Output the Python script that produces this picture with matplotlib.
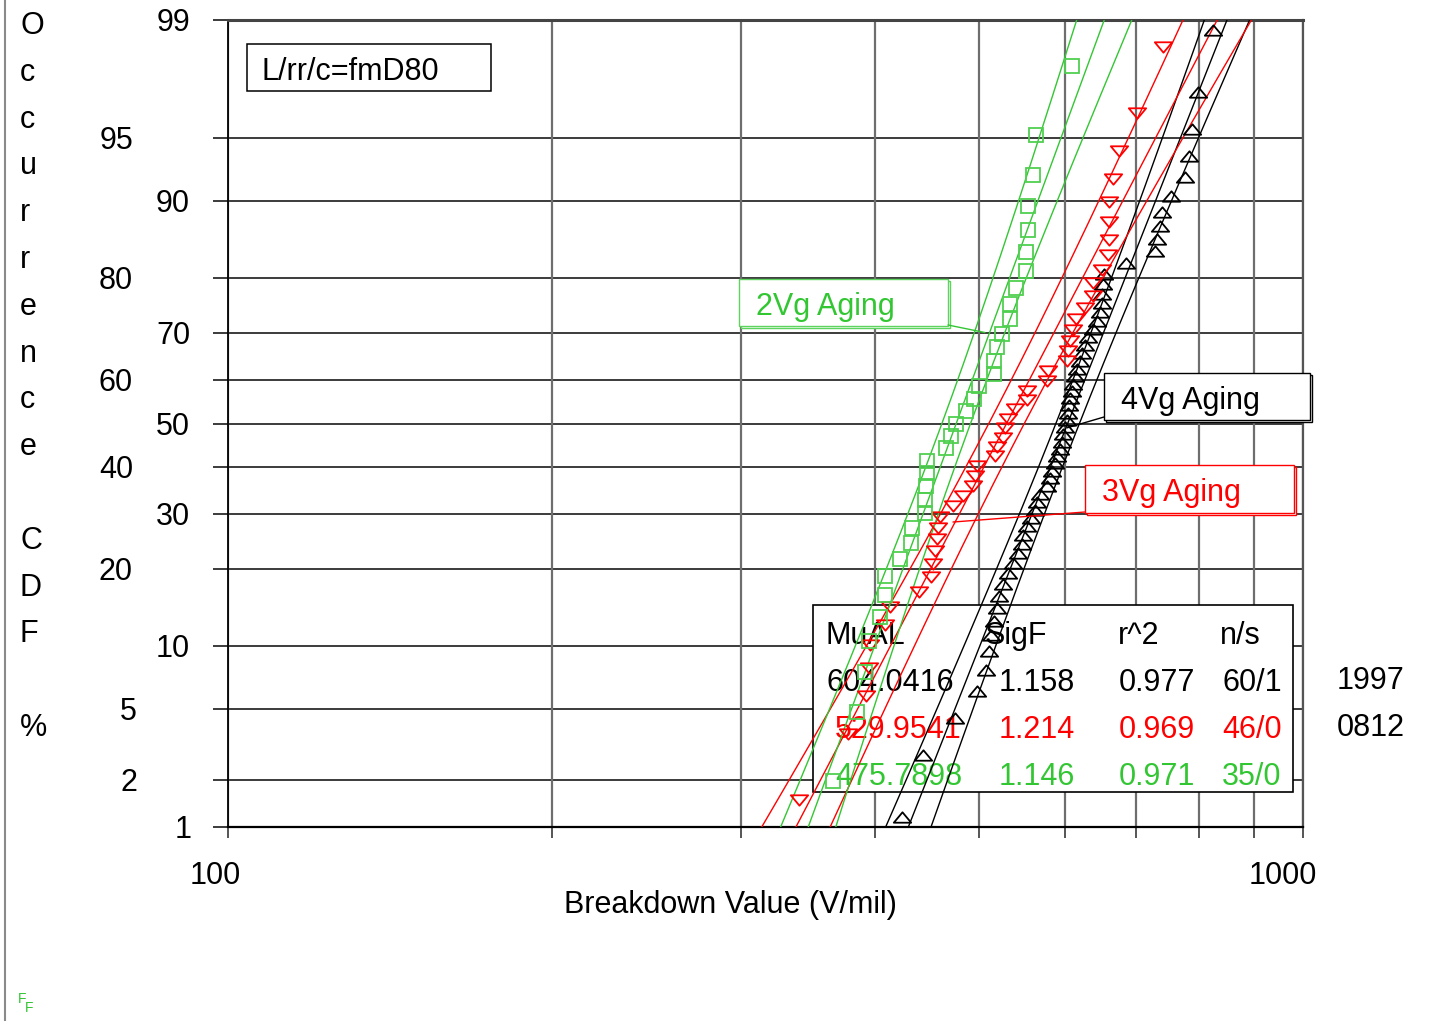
import numpy as np
import matplotlib
matplotlib.use('Agg')
import matplotlib.pyplot as plt
from matplotlib.path import Path
from matplotlib.patches import Rectangle
from matplotlib.lines import Line2D
from matplotlib.ticker import NullLocator
from statistics import NormalDist

plt.rcParams['font.family'] = ['Liberation Sans', 'DejaVu Sans']

# breakdown values (V/mil)
vals_4vg = [423.6, 443.1, 474.5, 497.4, 507.1, 510.4, 512.5, 515.8, 519.2, 521.4,
            525.9, 531.6, 537.3, 543.1, 547.8, 548.9, 553.7, 558.5, 563.3, 565.7,
            569.4, 577.9, 581.7, 584.2, 587.9, 590.4, 594.2, 596.8, 598.1, 600.6,
            603.2, 604.5, 605.8, 607.1, 609.7, 611.0, 613.6, 616.2, 620.2, 622.9,
            626.9, 631.0, 637.7, 643.2, 647.3, 650.2, 650.2, 651.6, 653.0, 684.5,
            728.4, 731.5, 736.2, 739.4, 753.8, 776.8, 783.5, 788.5, 798.7, 824.8]
vals_3vg = [339.8, 377.4, 392.2, 394.7, 395.6, 408.5, 412.9, 439.3, 450.8, 452.7,
            454.7, 456.6, 457.6, 459.5, 472.5, 482.7, 493.2, 495.3, 497.4, 517.0,
            519.2, 526.0, 528.3, 531.7, 539.7, 553.7, 553.7, 577.9, 579.2, 603.4,
            604.7, 607.3, 611.2, 615.2, 627.1, 637.9, 637.9, 650.3, 658.7, 660.1,
            660.1, 660.1, 665.8, 674.4, 701.0, 741.1]
vals_2vg = [365.4, 384.7, 391.4, 394.7, 404.1, 408.5, 408.5, 421.9, 431.9, 432.8,
            445.0, 445.0, 446.0, 446.9, 446.9, 465.5, 470.5, 475.5, 485.8, 494.2,
            499.5, 515.8, 515.8, 519.2, 524.8, 533.9, 533.9, 540.8, 552.5, 552.5,
            554.9, 554.9, 560.9, 564.5, 609.9]

# fit results shown in the table
groups = ['4Vg Aging', '3Vg Aging', '2Vg Aging']
mu_al = [604.0416, 529.9541, 475.7898]
sig_f = [1.158, 1.214, 1.146]
r_sq = [0.977, 0.969, 0.971]
n_s = ['60/1', '46/0', '35/0']

line_colors = ['black', 'red', '#33c633']
mark_colors = ['black', 'red', '#4fcf4f']

pct_ticks = [1, 2, 5, 10, 20, 30, 40, 50, 60, 70, 80, 90, 95, 99]
x_grid = [100, 200, 300, 400, 500, 600, 700, 800, 900, 1000]
conf_k = 1.33

FS = 22
DY = 3  # va='center' sits a little high compared with the original

nd = NormalDist()


def zq(p):
    return nd.inv_cdf(p)


tri_up = Path([(-1, -0.6), (1, -0.6), (0, 0.6), (-1, -0.6)],
              [Path.MOVETO, Path.LINETO, Path.LINETO, Path.CLOSEPOLY])
tri_dn = Path([(-1, 0.6), (1, 0.6), (0, -0.6), (-1, 0.6)],
              [Path.MOVETO, Path.LINETO, Path.LINETO, Path.CLOSEPOLY])
markers = [tri_up, tri_dn, 's']
msizes = [12.5, 12.5, 9.5]

W, H = 1451, 1021
fig = plt.figure(figsize=(W / 100, H / 100), dpi=100)
ax = fig.add_axes([228 / W, 1 - 827 / H, 1075 / W, 807 / H])
ax.set_xscale('log')
ax.set_xlim(100, 1000)
ax.set_ylim(zq(0.01), zq(0.99))


def px2ax(px, py):
    return (px - 228) / 1075, (827 - py) / 807


# grid
for p in pct_ticks:
    ax.axhline(zq(p / 100), color='#1a1a1a', lw=1.2, zorder=1)
for v in x_grid:
    ax.axvline(v, color='#6e6e6e', lw=1.6, zorder=1)

ax.set_xticks(x_grid)
ax.set_xticklabels([])
ax.xaxis.set_minor_locator(NullLocator())
ax.set_yticks([zq(p / 100) for p in pct_ticks])
ax.set_yticklabels([])
ax.tick_params(axis='x', direction='out', length=8, width=1.4, color='#555555')
ax.tick_params(axis='y', direction='out', length=11, width=1.2, color='#1a1a1a')
ax.spines['left'].set_color('black')
ax.spines['left'].set_linewidth(1.3)
ax.spines['bottom'].set_color('black')
ax.spines['bottom'].set_linewidth(1.6)
ax.spines['top'].set_color('#444444')
ax.spines['top'].set_linewidth(2.2)
ax.spines['right'].set_color('#555555')
ax.spines['right'].set_linewidth(1.6)

# y tick labels (staggered like the original)
label_right = {99: 190, 95: 133, 90: 190, 80: 133, 70: 190, 60: 133, 50: 190,
               40: 133, 30: 190, 20: 133, 10: 190, 5: 137, 2: 137, 1: 192}
for p in pct_ticks:
    ax.annotate(str(p), xy=((label_right[p] - 228) / 1075, zq(p / 100)),
                xycoords=ax.get_yaxis_transform(), xytext=(0, -DY * 0.72),
                textcoords='offset points', ha='right', va='center',
                fontsize=FS, color='black', annotation_clip=False)

fig.text(215 / W, 1 - (873 + DY) / H, '100', ha='center', va='center', fontsize=FS)
fig.text(1283 / W, 1 - (873 + DY) / H, '1000', ha='center', va='center', fontsize=FS)
fig.text(730 / W, 1 - (902 + DY) / H, 'Breakdown Value (V/mil)', ha='center',
         va='center', fontsize=FS)

# stacked y label
ylab = 'Occurrence\nCDF\n%'
k = 0
for ch in ylab:
    if ch == '\n':
        k += 1
        continue
    fig.text(20 / W, 1 - (34 + k * 46.8) / H, ch, ha='left', va='baseline', fontsize=FS)
    k += 1

# data, fits and confidence bounds
all_vals = [vals_4vg, vals_3vg, vals_2vg]
zz = np.linspace(zq(0.005), zq(0.995), 300)
for vals, mu, sf, lc, mc, mk, ms in zip(all_vals, mu_al, sig_f, line_colors,
                                        mark_colors, markers, msizes):
    n = len(vals)
    xs = np.sort(np.array(vals))
    ranks = np.arange(1, n + 1)
    fpos = (ranks - 0.3) / (n + 0.4)
    zs = np.array([zq(f) for f in fpos])
    m = np.log10(mu)
    s = np.log10(sf)
    center = m + zz * s
    half = conf_k * s * np.sqrt(1 / n + zz ** 2 / (2 * n))
    ax.plot(10 ** center, zz, color=lc, lw=1.0, zorder=3)
    ax.plot(10 ** (center - half), zz, color=lc, lw=1.0, zorder=3)
    ax.plot(10 ** (center + half), zz, color=lc, lw=1.0, zorder=3)
    ax.plot(xs, zs, linestyle='none', marker=mk, markersize=ms,
            markerfacecolor='none', markeredgecolor=mc, markeredgewidth=1.3, zorder=4)

# stats table
x0, y0 = px2ax(813, 792)
ax.add_patch(Rectangle((x0, y0), 480 / 1075, 187 / 807, transform=ax.transAxes,
                       facecolor='white', edgecolor='black', lw=1.2, zorder=2))
hy = px2ax(0, 633 + DY)[1]
for txt, px in zip(['MuAL', 'SigF', 'r^2', 'n/s'], [826, 985, 1118, 1220]):
    ax.text(px2ax(px, 0)[0], hy, txt, transform=ax.transAxes, ha='left', va='center',
            fontsize=FS, zorder=2.5)
row_y = [680, 727, 774]
mu_x = [826, 835, 835]
for i in range(3):
    ry = px2ax(0, row_y[i] + DY)[1]
    c = line_colors[i]
    ax.text(px2ax(mu_x[i], 0)[0], ry, f'{mu_al[i]:.4f}', transform=ax.transAxes,
            ha='left', va='center', fontsize=FS, color=c, zorder=2.5)
    ax.text(px2ax(999, 0)[0], ry, f'{sig_f[i]:.3f}', transform=ax.transAxes,
            ha='left', va='center', fontsize=FS, color=c, zorder=2.5)
    ax.text(px2ax(1119, 0)[0], ry, f'{r_sq[i]:.3f}', transform=ax.transAxes,
            ha='left', va='center', fontsize=FS, color=c, zorder=2.5)
    ax.text(px2ax(1222, 0)[0], ry, n_s[i], transform=ax.transAxes,
            ha='left', va='center', fontsize=FS, color=c, zorder=2.5)

fig.text(1337 / W, 1 - (678 + DY) / H, '1997', ha='left', va='center', fontsize=FS)
fig.text(1337 / W, 1 - (725 + DY) / H, '0812', ha='left', va='center', fontsize=FS)

# plot label box
bx, by = px2ax(247, 91)
ax.add_patch(Rectangle((bx, by), 244 / 1075, 47 / 807, transform=ax.transAxes,
                       facecolor='white', edgecolor='black', lw=1.1, zorder=2))
ax.text(px2ax(262, 0)[0], px2ax(0, 69 + DY)[1], 'L/rr/c=fmD80', transform=ax.transAxes,
        ha='left', va='center', fontsize=FS, zorder=2.5)

# group annotation boxes with leader lines
ann_boxes = [(1104, 373, 1310, 420), (1085, 465, 1294, 513), (739, 279, 948, 326)]
ann_from = [(1104, 417), (1085, 512), (948, 325)]
ann_to = [(603.3, 0.49), (472.5, 0.285), (506.0, 0.70)]
box_edge = ['black', 'red', '#5fd35f']
for i in range(3):
    l, t, r, b = ann_boxes[i]
    for off in (2, 0):
        ox, oy = px2ax(l + off, b + off)
        ax.add_patch(Rectangle((ox, oy), (r - l) / 1075, (b - t) / 807,
                               transform=ax.transAxes, facecolor='white',
                               edgecolor=box_edge[i], lw=1.0, zorder=5, clip_on=False))
    ax.text(px2ax(l + 17, 0)[0], px2ax(0, (t + b) / 2 + 1 + DY)[1], groups[i],
            transform=ax.transAxes, ha='left', va='center', fontsize=FS,
            color=line_colors[i], zorder=6)
    ax.annotate('', xy=(ann_to[i][0], zq(ann_to[i][1])), xycoords='data',
                xytext=px2ax(*ann_from[i]), textcoords='axes fraction',
                arrowprops=dict(arrowstyle='-', color=line_colors[i], lw=1.0,
                                shrinkA=0, shrinkB=0), zorder=5)

# page edge and footer mark
fig.add_artist(Line2D([5 / W, 5 / W], [0, 1], transform=fig.transFigure,
                      color='#8a8a8a', lw=1.5))
fig.text(18 / W, 1 - 999 / H, 'F', fontsize=10, color='#33c633', ha='left', va='center')
fig.text(25 / W, 1 - 1008 / H, 'F', fontsize=10, color='#33c633', ha='left', va='center')

fig.savefig('out.png', dpi=100)
